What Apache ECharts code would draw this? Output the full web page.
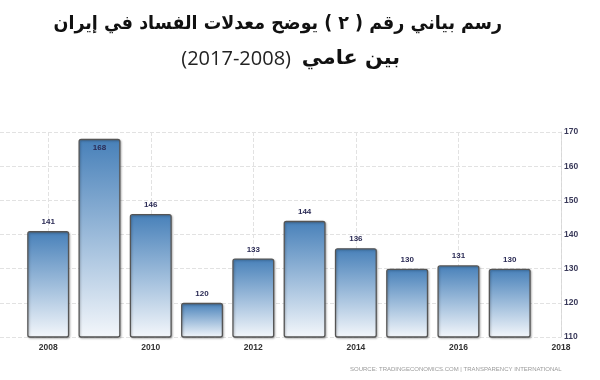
<!DOCTYPE html>
<html>
<head>
<meta charset="utf-8">
<script src="https://cdn.jsdelivr.net/npm/echarts@6/dist/echarts.min.js"></script>
<style>html,body{margin:0;padding:0;background:#fff}#c{width:600px;height:380px}</style>
</head>
<body>
<div id="c"></div>
<script>
const years = [2008, 2009, 2010, 2011, 2012, 2013, 2014, 2015, 2016, 2017];
const values = [141, 168, 146, 120, 133, 144, 136, 130, 131, 130];
const xTickLabels = [2008, 2010, 2012, 2014, 2016, 2018];
const yMin = 110, yMax = 170, yStep = 10;
const titleLine1 = '\u202Bرسم بياني رقم ( ٢ ) يوضح معدلات الفساد في إيران\u202C';
const titleLine2Words = '\u202Bبين عامي\u202C';
const titleLine2Years = '(2017-2008)';
const sourceText = 'SOURCE: TRADINGECONOMICS.COM | TRANSPARENCY INTERNATIONAL';

const chart = echarts.init(document.getElementById('c'));
const barData = years.map((y, i) => {
  const item = { value: [y, values[i]] };
  if (values[i] > yMax - 5) item.label = { position: 'insideTop', distance: 5 };
  return item;
});
chart.setOption({
  animation: false,
  backgroundColor: '#fff',
  graphic: [
    { type: 'text', x: 502, y: 24, scaleX: 0.92, style: { text: titleLine1, align: 'right', verticalAlign: 'middle', font: 'bold 19px "DejaVu Sans"', fill: '#111' } },
    { type: 'text', x: 400, y: 59, scaleX: 1.04, style: { text: titleLine2Words, align: 'right', verticalAlign: 'middle', font: 'bold 20px "DejaVu Sans"', fill: '#111' } },
    { type: 'text', x: 291, y: 59, style: { text: titleLine2Years, align: 'right', verticalAlign: 'middle', font: '20px "Open Sans"', fill: '#222' } },
    { type: 'text', left: 350, top: 366, style: { text: sourceText, font: '6px "Liberation Sans"', fill: '#9a9a9a' } }
  ],
  grid: { left: 0, right: 39, top: 132, bottom: 43 },
  xAxis: {
    type: 'value', min: 2007.06, max: 2018,
    axisLine: { show: false },
    axisTick: { show: false, customValues: xTickLabels },
    axisLabel: { customValues: xTickLabels, formatter: v => String(v), fontSize: 8.5, fontWeight: 'bold', color: '#333', margin: 6, fontFamily: 'Liberation Sans' },
    splitLine: { show: true, lineStyle: { type: 'dashed', color: '#e2e2e2' } }
  },
  yAxis: {
    type: 'value', position: 'right', min: yMin, max: yMax, interval: yStep,
    axisLine: { show: true, lineStyle: { type: 'dashed', color: '#d8d8d8' } },
    axisTick: { show: false },
    axisLabel: { fontSize: 8.5, fontWeight: 'bold', color: '#3a3a5a', margin: 3, fontFamily: 'Liberation Sans' },
    splitLine: { show: true, lineStyle: { type: 'dashed', color: '#e2e2e2' } }
  },
  series: [{
    type: 'bar',
    data: barData,
    barWidth: 42,
    itemStyle: {
      color: new echarts.graphic.LinearGradient(0, 0, 0, 1, [
        { offset: 0, color: '#4780b9' },
        { offset: 0.55, color: '#a6c2de' },
        { offset: 1, color: '#f4f7fb' }
      ]),
      borderColor: '#555',
      borderWidth: 1.3,
      borderRadius: 2,
      shadowColor: 'rgba(0,0,0,0.25)',
      shadowBlur: 2,
      shadowOffsetX: 1,
      shadowOffsetY: 1
    },
    label: { show: true, position: 'top', distance: 5, fontSize: 8, fontWeight: 'bold', color: '#2b2b55', fontFamily: 'Liberation Sans' }
  }]
});
</script>
</body>
</html>
